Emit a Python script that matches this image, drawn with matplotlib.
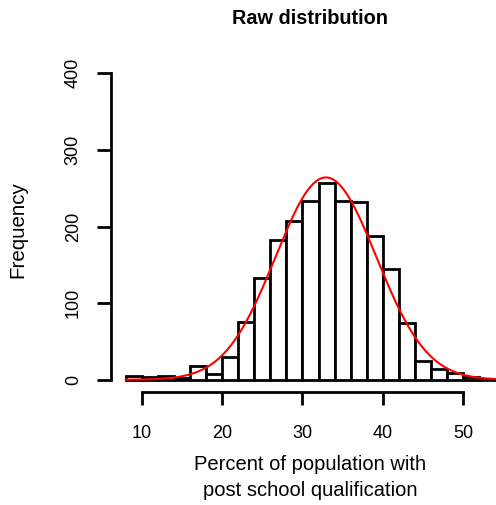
import numpy as np
import matplotlib
matplotlib.use("Agg")
import matplotlib.pyplot as plt

plt.rcParams['font.family'] = ['Liberation Sans', 'DejaVu Sans']

# histogram: bins of width 2 from 8 to 54
bin_edges = np.arange(8, 56, 2)
counts = [5, 3, 5, 2, 18, 8, 30, 75, 133, 182, 207, 233,
          257, 233, 232, 188, 144, 74, 24, 14, 9, 3, 1]
x_ticks = [10, 20, 30, 40, 50]
y_ticks = [0, 100, 200, 300, 400]

counts = np.array(counts)
mids = (bin_edges[:-1] + bin_edges[1:]) / 2
bw = bin_edges[1] - bin_edges[0]
n = counts.sum()
mu = (counts * mids).sum() / n
sd = np.sqrt((counts * (mids - mu) ** 2).sum() / n)

W, H = 496, 505
fig = plt.figure(figsize=(W / 100, H / 100), dpi=100)
left, right, bottom, top = 111, 510, 392, 61
ax = fig.add_axes([left / W, 1 - bottom / H, (right - left) / W, (bottom - top) / H])

ax.bar(bin_edges[:-1], counts, width=bw, align='edge', color='white',
       edgecolor='black', linewidth=2)

xs = np.linspace(8, 56, 400)
dens = np.exp(-0.5 * ((xs - mu) / sd) ** 2) / (sd * np.sqrt(2 * np.pi)) * n * bw
ax.plot(xs, dens, color='red', linewidth=1.5)

ax.set_xlim(6.16, 55.84)
ax.set_ylim(-16, 416)
for s in ['top', 'right']:
    ax.spines[s].set_visible(False)
ax.spines['left'].set_bounds(0, 400)
ax.spines['bottom'].set_bounds(10, 50)
ax.spines['left'].set_linewidth(2)
ax.spines['bottom'].set_linewidth(2)
ax.set_xticks(x_ticks)
ax.set_yticks(y_ticks)
ax.set_yticklabels([str(v) for v in y_ticks], rotation=90, va='center')
ax.tick_params(axis='x', length=9, width=2, pad=15, labelsize=13)
ax.tick_params(axis='y', length=10, width=2, pad=11, labelsize=13)

ax.set_xlabel('Percent of population with\npost school qualification',
              fontsize=14.5, linespacing=1.45)
ax.xaxis.set_label_coords(0.5, (392 - 455) / (392 - 61))
fig.text(18 / W, 1 - 230 / H, 'Frequency', rotation=90, ha='center', va='center',
         fontsize=14.8)
fig.text((left + right) / 2 / W, 1 - 18 / H, 'Raw distribution', ha='center',
         va='center', fontsize=14.3, fontweight='bold')

fig.savefig('out.png', dpi=100)
